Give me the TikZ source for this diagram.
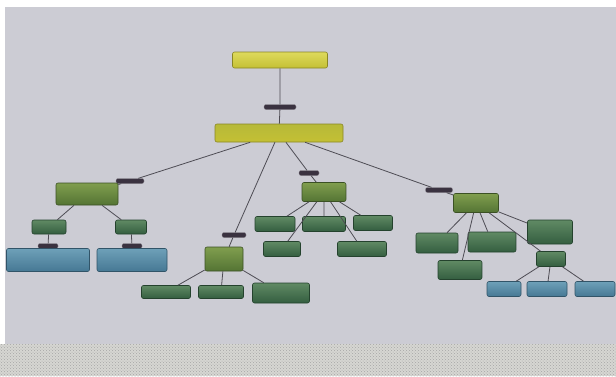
\documentclass[tikz,border=0pt]{standalone}
\usepackage{xcolor}
\usepackage{tikz}
\usetikzlibrary{patterns, shapes, calc}
\definecolor{paper}{RGB}{204,204,212}
\definecolor{carpet}{RGB}{214,214,210}
\definecolor{linkgray}{RGB}{78,76,84}
\definecolor{pilldark}{RGB}{58,50,64}
\definecolor{yellowtop}{RGB}{222,218,92}
\definecolor{yellowbot}{RGB}{196,192,52}
\definecolor{olivetop}{RGB}{128,158,78}
\definecolor{olivebot}{RGB}{84,116,52}
\definecolor{greentop}{RGB}{96,138,100}
\definecolor{greenbot}{RGB}{52,94,64}
\definecolor{bluetop}{RGB}{110,160,184}
\definecolor{bluebot}{RGB}{70,120,148}

\begin{document}
\begin{tikzpicture}[x=1pt, y=-1pt,
	conceptbox/.style={rounded corners=2pt, draw=#1bot!70!black, line width=0.6pt,
		top color=#1top, bottom color=#1bot, inner sep=0pt},
	linkpill/.style={rounded corners=2pt, fill=pilldark, draw=pilldark!60!white,
		line width=0.3pt, inner sep=0pt, minimum height=5pt},
	conn/.style={draw=linkgray, line width=0.8pt}]
	
	\useasboundingbox (0,0) rectangle (616,376);
	\fill[white] (0,0) rectangle (616,376);
	\fill[paper] (5,7) rectangle (616,344);
	\fill[carpet] (0,344) rectangle (616,376);
	\fill[pattern=crosshatch dots, pattern color=gray!70] (0,344) rectangle (616,376);
	
	%% top of the map
	\node[conceptbox=yellow, minimum width=95pt, minimum height=16pt] (top) at (280,60) {};
	\node[linkpill, minimum width=32pt] (ptop) at (280,107) {};
	\node[conceptbox=yellow, top color=yellowbot!80!olivetop, minimum width=128pt, minimum height=18pt] (main) at (279,133) {};
	
	%% left branch
	\node[linkpill, minimum width=28pt] (pa) at (130,181) {};
	\node[conceptbox=olive, minimum width=62pt, minimum height=22pt] (a) at (87,194) {};
	\node[conceptbox=green, minimum width=34pt, minimum height=14pt] (a1) at (49,227) {};
	\node[conceptbox=green, minimum width=31pt, minimum height=14pt] (a2) at (131,227) {};
	\node[linkpill, minimum width=20pt] (pa1) at (48,246) {};
	\node[linkpill, minimum width=20pt] (pa2) at (132,246) {};
	\node[conceptbox=blue, minimum width=83pt, minimum height=23pt] (a1b) at (48,260) {};
	\node[conceptbox=blue, minimum width=70pt, minimum height=23pt] (a2b) at (132,260) {};
	
	%% causes
	\node[linkpill, minimum width=24pt] (pb) at (234,235) {};
	\node[conceptbox=olive, minimum width=38pt, minimum height=24pt] (b) at (224,259) {};
	\node[conceptbox=green, minimum width=49pt, minimum height=13pt] (b1) at (166,292) {};
	\node[conceptbox=green, minimum width=45pt, minimum height=13pt] (b2) at (221,292) {};
	\node[conceptbox=green, minimum width=57pt, minimum height=20pt] (b3) at (281,293) {};
	
	%% centre branch
	\node[linkpill, minimum width=20pt] (pc) at (309,173) {};
	\node[conceptbox=olive, minimum width=44pt, minimum height=19pt] (c) at (324,192) {};
	\node[conceptbox=green, minimum width=40pt, minimum height=15pt] (c1) at (275,224) {};
	\node[conceptbox=green, minimum width=43pt, minimum height=15pt] (c2) at (324,224) {};
	\node[conceptbox=green, minimum width=39pt, minimum height=15pt] (c3) at (373,223) {};
	\node[conceptbox=green, minimum width=37pt, minimum height=15pt] (c4) at (282,249) {};
	\node[conceptbox=green, minimum width=49pt, minimum height=15pt] (c5) at (362,249) {};
	
	%% right branch
	\node[linkpill, minimum width=27pt] (pd) at (439,190) {};
	\node[conceptbox=olive, minimum width=45pt, minimum height=19pt] (d) at (476,203) {};
	\node[conceptbox=green, minimum width=42pt, minimum height=20pt] (d1) at (437,243) {};
	\node[conceptbox=green, minimum width=48pt, minimum height=20pt] (d2) at (492,242) {};
	\node[conceptbox=green, minimum width=45pt, minimum height=24pt] (d3) at (550,232) {};
	\node[conceptbox=green, minimum width=44pt, minimum height=19pt] (d4) at (460,270) {};
	\node[conceptbox=green, minimum width=29pt, minimum height=15pt] (d5) at (551,259) {};
	\node[conceptbox=blue, minimum width=34pt, minimum height=15pt] (e1) at (504,289) {};
	\node[conceptbox=blue, minimum width=40pt, minimum height=15pt] (e2) at (547,289) {};
	\node[conceptbox=blue, minimum width=40pt, minimum height=15pt] (e3) at (595,289) {};
	
	%% connectors
	\path[conn] (top) -- (ptop) -- (main);
	\path[conn] (main) -- (pa) -- (a);
	\path[conn] (a) -- (a1) (a) -- (a2);
	\path[conn] (a1) -- (pa1) -- (a1b) (a2) -- (pa2) -- (a2b);
	\path[conn] (main) -- (pb) -- (b);
	\path[conn] (b) -- (b1) (b) -- (b2) (b) -- (b3);
	\path[conn] (main) -- (pc) -- (c);
	\path[conn] (c) -- (c1) (c) -- (c2) (c) -- (c3) (c) -- (c4) (c) -- (c5);
	\path[conn] (main) -- (pd) -- (d);
	\path[conn] (d) -- (d1) (d) -- (d2) (d) -- (d3) (d) -- (d4) (d) -- (d5);
	\path[conn] (d5) -- (e1) (d5) -- (e2) (d5) -- (e3);
\end{tikzpicture}
\end{document}
